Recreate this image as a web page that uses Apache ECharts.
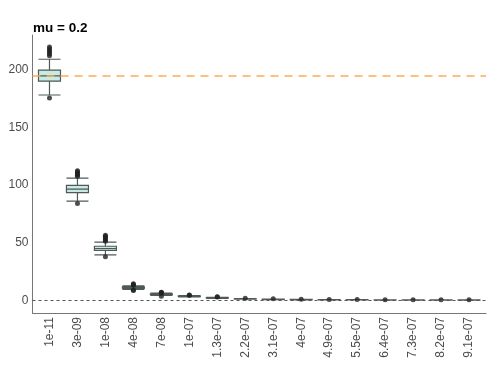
<!DOCTYPE html>
<html>
<head>
<meta charset="utf-8">
<script src="https://cdn.jsdelivr.net/npm/echarts@6/dist/echarts.min.js"></script>
<style>
  html, body { margin: 0; padding: 0; background: #fff; }
  #chart { width: 491px; height: 368px; }
</style>
</head>
<body>
<div id="chart"></div>
<script>
const categories = ['1e-11', '3e-09', '1e-08', '4e-08', '7e-08', '1e-07', '1.3e-07', '2.2e-07',
  '3.1e-07', '4e-07', '4.9e-07', '5.5e-07', '6.4e-07', '7.3e-07', '8.2e-07', '9.1e-07']

const lowWhisker = [178, 86, 39.5, 9.6, 4.2, 2.9, 1.8, 1.0, 0.65, 0.5, 0.4, 0.32, 0.28, 0.24, 0.22, 0.2]
const q1 = [190, 93.3, 43.2, 10.6, 4.9, 3.3, 2.05, 1.2, 0.8, 0.62, 0.5, 0.42, 0.37, 0.33, 0.3, 0.27]
const median = [194.6, 96.5, 44.9, 11.0, 5.2, 3.5, 2.2, 1.3, 0.9, 0.7, 0.56, 0.47, 0.42, 0.37, 0.33, 0.3]
const q3 = [199.6, 99.6, 46.9, 11.4, 5.5, 3.7, 2.35, 1.4, 1.0, 0.78, 0.62, 0.52, 0.46, 0.41, 0.37, 0.33]
const highWhisker = [209, 106, 50.5, 12.6, 6.3, 4.2, 2.7, 1.6, 1.15, 0.9, 0.72, 0.6, 0.53, 0.47, 0.42, 0.38]
const outliers = [
  [175.5, 212, 213.5, 215, 216.5, 218, 219.5],
  [84, 107.5, 108.5, 109.5, 110.5, 111.5, 112.3],
  [37.7, 51.2, 52.5, 53.5, 54.5, 55.5, 56.4],
  [8.6, 9.0, 13.2, 13.8, 14.4],
  [3.6, 6.6, 6.9, 7.1],
  [4.5, 4.7],
  [2.9, 3.1],
  [1.8],
  [1.3],
  [1.0],
  [0.85],
  [0.7],
  [0.62],
  [0.55],
  [0.5],
  [0.45]
]
const refLine = 195
const zeroLine = 0
const yTicks = [0, 50, 100, 150, 200]
const yMin = -10.95
const yMax = 230

const chart = echarts.init(document.getElementById('chart'))
const boxData = categories.map((_, i) => [lowWhisker[i], q1[i], median[i], q3[i], highWhisker[i]])
const outlierData = []
outliers.forEach((vals, i) => vals.forEach(v => outlierData.push([i, v])))

// grid 0: panel frame with ggplot-style 0.6 category expansion (axis lines, y labels, reference lines)
// grid 1: category bands aligned to the same centres (boxes, outliers, x labels)
chart.setOption({
  animation: false,
  textStyle: { fontFamily: 'Liberation Sans, Arial, sans-serif' },
  title: {
    text: 'mu = 0.2',
    left: 33,
    top: 21,
    padding: 0,
    textStyle: { fontSize: 13.5, fontWeight: 'bold', color: '#000' }
  },
  grid: [
    { left: 32.5, right: 5, top: 35, bottom: 55 },
    { left: 35.5, right: 8, top: 35, bottom: 55 }
  ],
  xAxis: [
    {
      type: 'value',
      gridIndex: 0,
      min: -0.6,
      max: categories.length - 0.4,
      axisLine: { show: true, onZero: false, lineStyle: { color: '#777', width: 1 } },
      axisTick: { show: false },
      axisLabel: { show: false },
      splitLine: { show: false }
    },
    {
      type: 'category',
      gridIndex: 1,
      data: categories,
      axisLine: { show: false },
      axisTick: { show: false },
      axisLabel: { rotate: 90, color: '#4d4d4d', fontSize: 12, margin: 4, interval: 0 },
      splitLine: { show: false }
    }
  ],
  yAxis: [
    {
      type: 'value',
      gridIndex: 0,
      min: yMin,
      max: yMax,
      axisLine: { show: true, onZero: false, lineStyle: { color: '#777', width: 1 } },
      axisTick: { show: false },
      axisLabel: { color: '#4d4d4d', fontSize: 12, margin: 4, customValues: yTicks },
      splitLine: { show: false }
    },
    {
      type: 'value',
      gridIndex: 1,
      min: yMin,
      max: yMax,
      axisLine: { show: false },
      axisTick: { show: false },
      axisLabel: { show: false },
      splitLine: { show: false }
    }
  ],
  series: [
    {
      type: 'boxplot',
      xAxisIndex: 1,
      yAxisIndex: 1,
      data: boxData,
      boxWidth: [22, 22],
      itemStyle: { color: '#c9e9e3', borderColor: '#4f5959', borderWidth: 1.2 },
      z: 3
    },
    {
      type: 'scatter',
      xAxisIndex: 1,
      yAxisIndex: 1,
      data: outlierData,
      symbolSize: 5,
      itemStyle: { color: '#222' },
      z: 4
    },
    {
      type: 'scatter',
      xAxisIndex: 0,
      yAxisIndex: 0,
      data: [],
      markLine: {
        silent: true,
        symbol: 'none',
        label: { show: false },
        data: [
          { yAxis: zeroLine, lineStyle: { color: '#555', type: [3, 3], width: 1 } },
          { yAxis: refLine, lineStyle: { color: '#ffab57', type: [8, 6], width: 1.6 } }
        ]
      },
      z: 6
    }
  ]
})
</script>
</body>
</html>
